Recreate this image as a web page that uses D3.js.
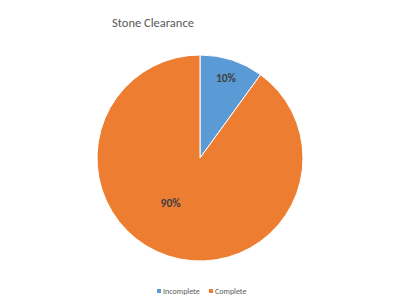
<!DOCTYPE html>
<html>
<head>
<meta charset="utf-8">
<script src="https://cdn.jsdelivr.net/npm/d3@7"></script>
<style>
  body { margin: 0; background: #fff; }
  text { font-family: Calibri, Carlito, "Open Sans", sans-serif; }
</style>
</head>
<body>
<svg id="chart"></svg>
<script>
const categories = ["Incomplete", "Complete"];
const values = [10, 90];
const colors = ["#5B9BD5", "#ED7D31"];
const chartTitle = "Stone Clearance";

const width = 405, height = 307;
const cx = 200, cy = 158, radius = 103;

const svg = d3.select("#chart")
  .attr("width", width)
  .attr("height", height);

svg.append("text")
  .attr("x", 112)
  .attr("y", 27)
  .attr("font-size", 12.5)
  .attr("fill", "#595959")
  .text(chartTitle);

const data = categories.map((c, i) => ({ name: c, value: values[i] }));
const total = d3.sum(values);

const pie = d3.pie().sort(null).value(d => d.value);
const arc = d3.arc().innerRadius(0).outerRadius(radius);

const g = svg.append("g").attr("transform", `translate(${cx},${cy})`);

const arcs = pie(data);

g.selectAll("path")
  .data(arcs)
  .join("path")
    .attr("d", arc)
    .attr("fill", (d, i) => colors[i])
    .attr("stroke", "#fff")
    .attr("stroke-width", 1);

// label placement, roughly how Excel's best fit puts them
const labelR = [84, 54];
const labelShift = [0, 15 * Math.PI / 180];
g.selectAll("text.lbl")
  .data(arcs)
  .join("text")
    .attr("class", "lbl")
    .attr("transform", (d, i) => {
      const a = (d.startAngle + d.endAngle) / 2 + labelShift[i];
      return `translate(${labelR[i] * Math.sin(a)},${-labelR[i] * Math.cos(a)})`;
    })
    .attr("text-anchor", "middle")
    .attr("dy", "0.35em")
    .attr("font-size", 11.5)
    .attr("font-weight", 600)
    .attr("fill", "#404040")
    .text(d => Math.round(d.data.value / total * 100) + "%");

// legend
const legend = svg.append("g").attr("transform", "translate(157,292)");
const legendX = [0, 52];
const items = legend.selectAll("g")
  .data(categories)
  .join("g")
    .attr("transform", (d, i) => `translate(${legendX[i]},0)`);
items.append("rect")
  .attr("x", 0).attr("y", -3)
  .attr("width", 4).attr("height", 4)
  .attr("fill", (d, i) => colors[i]);
items.append("text")
  .attr("x", 6)
  .attr("dy", "0.35em")
  .attr("y", -1)
  .attr("font-size", 8)
  .attr("fill", "#595959")
  .text(d => d);
</script>
</body>
</html>
